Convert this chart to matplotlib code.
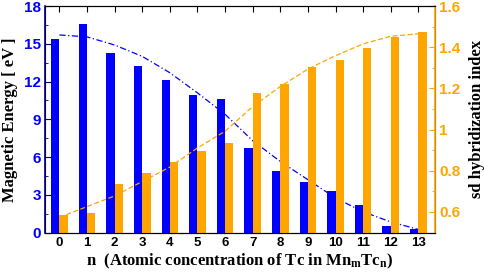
import numpy as np
import matplotlib.pyplot as plt
from matplotlib.ticker import MultipleLocator, FixedLocator

plt.rcParams['mathtext.fontset'] = 'custom'
plt.rcParams['mathtext.rm'] = 'Liberation Serif:bold'
plt.rcParams['mathtext.it'] = 'Liberation Serif:bold'
plt.rcParams['mathtext.bf'] = 'Liberation Serif:bold'

n = np.arange(14)
magnetic_energy = [15.4, 16.6, 14.3, 13.2, 12.1, 10.9, 10.6, 6.7, 4.9, 4.0, 3.3, 2.2, 0.5, 0.25]
sd_index = [0.585, 0.594, 0.735, 0.789, 0.843, 0.895, 0.936, 1.176, 1.22, 1.305, 1.337, 1.396, 1.451, 1.473]
energy_fit = [15.7, 15.55, 14.9, 14.0, 12.7, 11.1, 9.4, 7.3, 5.65, 4.2, 2.75, 1.65, 0.85, 0.25]
sd_fit = [0.574, 0.626, 0.678, 0.748, 0.818, 0.911, 0.992, 1.112, 1.209, 1.294, 1.359, 1.416, 1.453, 1.465]

blue = '#0000ff'
orange = '#ffa500'

fig = plt.figure(figsize=(4.85, 2.73), dpi=100)
ax = fig.add_axes([0.0928, 0.148, 0.804, 0.830])
ax2 = ax.twinx()

ax.bar(n, magnetic_energy, width=-0.3, align='edge', color=blue, zorder=2)
ax.plot(n, energy_fit, color=blue, lw=0.9, ls=(0, (5, 2, 1, 2)), zorder=3)
ax2.bar(n, sd_index, width=0.3, align='edge', color=orange, zorder=2)
ax2.plot(n, sd_fit, color=orange, lw=0.9, ls=(0, (4, 2)), zorder=3)

ax.set_xlim(-0.52, 13.6)
ax.set_ylim(0, 18)
ax2.set_ylim(0.5, 1.6)

ax.set_xticks(n)
ax.yaxis.set_major_locator(MultipleLocator(3))
ax.yaxis.set_minor_locator(MultipleLocator(1.5))
ax2.yaxis.set_major_locator(FixedLocator([0.6, 0.8, 1.0, 1.2, 1.4, 1.6]))
ax2.yaxis.set_minor_locator(MultipleLocator(0.1))
ax2.set_yticklabels(['0.6', '0.8', '1', '1.2', '1.4', '1.6'])

tick_font = dict(family='Liberation Sans', weight='bold')
for lab in ax.get_xticklabels():
    lab.set(fontsize=9.5, **tick_font)
for lab in ax.get_yticklabels():
    lab.set(fontsize=11, color=blue, **tick_font)
for lab in ax2.get_yticklabels():
    lab.set(fontsize=11, color=orange, **tick_font)

ax.tick_params(axis='x', direction='in', top=True, length=4, pad=3)
ax.tick_params(axis='y', which='both', direction='in', colors='navy', labelcolor=blue, pad=3)
ax.tick_params(axis='y', which='major', length=4)
ax.tick_params(axis='y', which='minor', length=2.5)
ax2.tick_params(axis='y', which='both', direction='in', colors=orange, labelcolor=orange, pad=3)
ax2.tick_params(axis='y', which='major', length=4)
ax2.tick_params(axis='y', which='minor', length=2.5)

ax2.spines['left'].set_color('navy')
ax2.spines['right'].set_color(orange)
ax2.spines['right'].set_linewidth(1.2)
ax2.spines['left'].set_linewidth(1.2)

label_font = dict(family='Liberation Serif', weight='bold', fontsize=12)
ax.set_ylabel('Magnetic Energy [ eV ]', labelpad=4, **label_font)
ax2.set_ylabel('sd hybridization index', labelpad=6, **label_font)
ax.set_xlabel(r'n  (Atomic concentration of Tc in Mn$_{\mathrm{m}}$Tc$_{\mathrm{n}}$)', labelpad=2, **label_font)

fig.savefig('out.png', dpi=100)
